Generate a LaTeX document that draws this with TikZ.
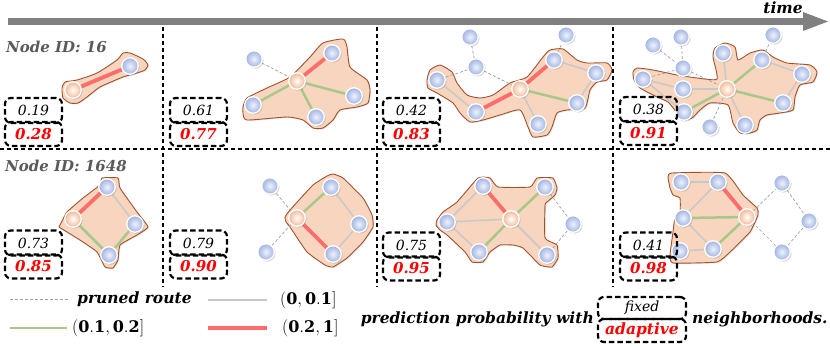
\documentclass[tikz,border=0pt]{standalone}
\usepackage{fontspec}
\setmainfont{DejaVu Serif}
\usetikzlibrary{shadows}
\pgfdeclarelayer{hulllayer}
\pgfdeclarelayer{edgelayer}
\pgfsetlayers{hulllayer,edgelayer,main}
\definecolor{hullfill}{RGB}{248,213,190}
\definecolor{hullline}{RGB}{160,82,45}
\definecolor{redge}{RGB}{255,108,108}
\definecolor{gedge}{RGB}{168,200,138}
\definecolor{grayedge}{RGB}{200,200,200}
\definecolor{prunedc}{RGB}{160,160,160}
\definecolor{nodeblue}{RGB}{160,180,226}
\definecolor{nodelight}{RGB}{238,242,252}
\definecolor{nodeorange}{RGB}{243,185,150}
\definecolor{barc}{RGB}{128,128,128}
\definecolor{idgray}{RGB}{90,90,90}
\tikzset{
  bnode/.style={circle, minimum size=16.5pt, inner sep=0pt, draw=white, line width=1.3pt,
    inner color=nodelight, outer color=nodeblue,
    drop shadow={opacity=0.35, shadow xshift=1.3pt, shadow yshift=-1.3pt}},
  onode/.style={bnode, inner color=white, outer color=nodeorange},
  hull/.style={fill=hullfill, draw=hullline, line width=0.9pt,
    drop shadow={opacity=0.2, shadow xshift=1pt, shadow yshift=-1pt}},
  redE/.style={draw=redge, line width=3.8pt},
  greenE/.style={draw=gedge, line width=2.5pt},
  grayE/.style={draw=grayedge, line width=1.5pt},
  prunedE/.style={draw=prunedc, line width=0.7pt, dash pattern=on 3pt off 2pt},
  sep/.style={draw=black, line width=1.1pt, dash pattern=on 4pt off 3pt},
  pboxstyle/.style={draw=black, line width=2.2pt, dash pattern=on 5.5pt off 3pt, rounded corners=6pt,
    minimum width=57pt, inner sep=0pt},
  ptop/.style={pboxstyle, minimum height=25pt, font=\fontsize{14}{14}\selectfont\itshape},
  pbot/.style={pboxstyle, minimum height=24pt, text=red, font=\fontsize{15}{15}\selectfont\bfseries\itshape},
  bi/.style={font=\fontsize{15.5}{15.5}\selectfont\bfseries\itshape, inner sep=0pt},
  idlab/.style={font=\fontsize{15}{15}\selectfont\bfseries\itshape, text=idgray, inner sep=0pt, anchor=west},
  mathlab/.style={font=\fontsize{16}{16}\selectfont, inner sep=0pt}
}
\begin{document}
\begin{tikzpicture}[x=1pt, y=-1pt]
\useasboundingbox (0,0) rectangle (830,349);
% time arrow
\fill[barc] (8,18) rectangle (803,25);
\fill[barc] (803,12) -- (828,21.5) -- (803,31) -- cycle;
\node[bi] (time) at (783,8) {time};
% separators
\draw[sep] (0,149) -- (830,149);
\draw[sep] (163,27) -- (163,287);
\draw[sep] (377,27) -- (377,287);
\draw[sep] (613,27) -- (613,287);
% labels
\node[idlab] (id1) at (6,47) {Node ID: 16};
\node[idlab] (id2) at (5,166) {Node ID: 1648};

% ---------------- Panel 1
\node[onode] (p1o) at (73,90) {};
\node[bnode] (p1a) at (130,66) {};
\begin{pgfonlayer}{hulllayer}
\draw[hull] plot[smooth cycle, tension=0.35] coordinates {(62,88) (65,82) (77,80) (97,73) (117,60) (123,53) (130,53) (143,59) (148,65) (145,70) (137,73) (123,77) (100,87) (87,97) (78,103) (70,103) (63,98)};
\end{pgfonlayer}
\begin{pgfonlayer}{edgelayer}
\draw[redE] (p1o) -- (p1a);
\end{pgfonlayer}

% ---------------- Panel 2
\node[onode] (p2o) at (297,81) {};
\node[bnode] (p2a) at (332,53) {};
\node[bnode] (p2b) at (354,96) {};
\node[bnode] (p2c) at (316,117) {};
\node[bnode] (p2d) at (253,105) {};
\node[bnode] (p2e) at (254,59) {};
\begin{pgfonlayer}{hulllayer}
\draw[hull] plot[smooth cycle, tension=0.35] coordinates {(243,107) (247,98) (267,88) (290,77) (310,57) (323,43) (343,39) (347,47) (350,67) (367,80) (370,90) (368,103) (357,107) (340,110) (333,120) (323,128) (313,128) (303,120) (287,117) (247,120) (243,113)};
\end{pgfonlayer}
\begin{pgfonlayer}{edgelayer}
\draw[prunedE] (p2e) -- (p2o);
\draw[redE] (p2o) -- (p2a);
\draw[greenE] (p2o) -- (p2b);
\draw[greenE] (p2o) -- (p2c);
\draw[greenE] (p2o) -- (p2d);
\end{pgfonlayer}

% ---------------- Panel 3
\node[onode] (p3o) at (520,89) {};
\node[bnode] (p3a) at (470,37) {};
\node[bnode] (p3b) at (476,67) {};
\node[bnode] (p3c) at (437,80) {};
\node[bnode] (p3d) at (476,112) {};
\node[bnode] (p3e) at (538,124) {};
\node[bnode] (p3f) at (554,60) {};
\node[bnode] (p3g) at (566,35) {};
\node[bnode] (p3h) at (596,73) {};
\node[bnode] (p3i) at (577,103) {};
\begin{pgfonlayer}{hulllayer}
\draw[hull] plot[smooth cycle, tension=0.35] coordinates {(427,80) (430,70) (440,65) (452,72) (457,83) (467,95) (480,98) (493,95) (510,83) (527,77) (543,57) (550,50) (563,49) (577,60) (587,63) (607,63) (612,70) (607,80) (597,82) (590,90) (585,108) (567,110) (557,113) (552,127) (547,135) (533,137) (528,127) (520,110) (500,115) (483,120) (470,122) (460,113) (453,103) (437,93) (428,88)};
\end{pgfonlayer}
\begin{pgfonlayer}{edgelayer}
\draw[prunedE] (p3a) -- (p3b);
\draw[prunedE] (p3b) -- (p3c);
\draw[prunedE] (p3b) -- (p3o);
\draw[prunedE] (p3f) -- (p3g);
\draw[grayE] (p3o) -- (p3e);
\draw[grayE] (p3c) -- (p3d);
\draw[grayE] (p3f) -- (p3h);
\draw[grayE] (p3h) -- (p3i);
\draw[greenE] (p3o) -- (p3i);
\draw[redE] (p3o) -- (p3f);
\draw[redE] (p3o) -- (p3d);
\end{pgfonlayer}

% ---------------- Panel 4
\node[onode] (p4o) at (727,89) {};
\node[bnode] (p4a) at (653,45) {};
\node[bnode] (p4b) at (681,37) {};
\node[bnode] (p4c) at (683,68) {};
\node[bnode] (p4d) at (643,79) {};
\node[bnode] (p4e) at (683,89) {};
\node[bnode] (p4f) at (684,112) {};
\node[bnode] (p4g) at (710,127) {};
\node[bnode] (p4h) at (745,125) {};
\node[bnode] (p4i) at (723,53) {};
\node[bnode] (p4j) at (762,60) {};
\node[bnode] (p4k) at (773,35) {};
\node[bnode] (p4l) at (802,74) {};
\node[bnode] (p4m) at (783,103) {};
\begin{pgfonlayer}{hulllayer}
\draw[hull] plot[smooth cycle, tension=0.35] coordinates {(633,72) (637,68) (653,70) (677,75) (697,78) (717,79) (713,57) (715,48) (725,43) (735,47) (738,60) (750,53) (763,50) (773,57) (787,63) (810,65) (817,72) (813,82) (800,85) (795,97) (793,110) (780,113) (767,115) (760,120) (757,130) (750,133) (740,133) (733,123) (728,105) (710,103) (700,110) (692,118) (682,120) (677,113) (668,102) (657,97) (640,88) (634,80)};
\end{pgfonlayer}
\begin{pgfonlayer}{edgelayer}
\draw[prunedE] (p4a) -- (p4c);
\draw[prunedE] (p4b) -- (p4c);
\draw[prunedE] (p4c) -- (p4o);
\draw[prunedE] (p4c) -- (p4d);
\draw[prunedE] (p4j) -- (p4k);
\draw[prunedE] (p4g) -- (p4o);
\draw[grayE] (p4o) -- (p4h);
\draw[grayE] (p4o) -- (p4i);
\draw[grayE] (p4o) -- (p4e);
\draw[grayE] (p4d) -- (p4e);
\draw[grayE] (p4d) -- (p4f);
\draw[grayE] (p4j) -- (p4l);
\draw[grayE] (p4l) -- (p4m);
\draw[greenE] (p4o) -- (p4j);
\draw[greenE] (p4o) -- (p4m);
\draw[greenE] (p4o) -- (p4f);
\end{pgfonlayer}

% ---------------- Panel 5
\node[onode] (p5o) at (73,219) {};
\node[bnode] (p5a) at (107,187) {};
\node[bnode] (p5b) at (135,224) {};
\node[bnode] (p5c) at (109,255) {};
\begin{pgfonlayer}{hulllayer}
\draw[hull] plot[smooth cycle, tension=0.25] coordinates {(60,225) (67,212) (83,198) (100,185) (102,178) (118,178) (120,188) (137,212) (148,227) (137,235) (120,245) (118,260) (113,268) (105,267) (97,252) (83,242) (67,232) (59,227)};
\end{pgfonlayer}
\begin{pgfonlayer}{edgelayer}
\draw[grayE] (p5a) -- (p5b);
\draw[redE] (p5o) -- (p5a);
\draw[greenE] (p5b) -- (p5c);
\draw[greenE] (p5c) -- (p5o);
\end{pgfonlayer}

% ---------------- Panel 6
\node[onode] (p6o) at (297,218) {};
\node[bnode] (p6a) at (331,187) {};
\node[bnode] (p6b) at (359,224) {};
\node[bnode] (p6c) at (333,254) {};
\node[bnode] (p6d) at (270,186) {};
\node[bnode] (p6e) at (266,252) {};
\begin{pgfonlayer}{hulllayer}
\draw[hull] plot[smooth cycle, tension=0.25] coordinates {(285,217) (290,210) (313,185) (327,176) (333,174) (343,178) (363,198) (372,215) (373,227) (363,242) (347,258) (333,267) (325,265) (307,252) (290,227) (286,222)};
\end{pgfonlayer}
\begin{pgfonlayer}{edgelayer}
\draw[prunedE] (p6o) -- (p6d);
\draw[prunedE] (p6o) -- (p6e);
\draw[grayE] (p6a) -- (p6b);
\draw[grayE] (p6b) -- (p6c);
\draw[greenE] (p6o) -- (p6a);
\draw[redE] (p6c) -- (p6o);
\end{pgfonlayer}

% ---------------- Panel 7
\node[onode] (p7o) at (511,219) {};
\node[bnode] (p7a) at (483,186) {};
\node[bnode] (p7b) at (545,187) {};
\node[bnode] (p7c) at (447,222) {};
\node[bnode] (p7d) at (479,252) {};
\node[bnode] (p7e) at (547,255) {};
\node[bnode] (p7f) at (573,224) {};
\begin{pgfonlayer}{hulllayer}
\draw[hull] plot[smooth cycle, tension=0.25] coordinates {(437,220) (443,212) (457,202) (478,178) (490,178) (498,187) (530,187) (537,178) (553,178) (557,188) (555,195) (547,202) (545,205) (545,238) (557,245) (558,258) (552,267) (540,265) (523,248) (513,245) (500,245) (490,252) (483,262) (472,262) (465,252) (447,235) (440,230) (436,225)};
\end{pgfonlayer}
\begin{pgfonlayer}{edgelayer}
\draw[prunedE] (p7b) -- (p7f);
\draw[prunedE] (p7f) -- (p7e);
\draw[grayE] (p7o) -- (p7c);
\draw[grayE] (p7o) -- (p7e);
\draw[grayE] (p7c) -- (p7a);
\draw[grayE] (p7c) -- (p7d);
\draw[greenE] (p7o) -- (p7b);
\draw[greenE] (p7o) -- (p7d);
\draw[redE] (p7o) -- (p7a);
\end{pgfonlayer}

% ---------------- Panel 8
\node[onode] (p8o) at (747,217) {};
\node[bnode] (p8a) at (681,182) {};
\node[bnode] (p8b) at (718,182) {};
\node[bnode] (p8c) at (683,218) {};
\node[bnode] (p8d) at (680,251) {};
\node[bnode] (p8e) at (713,249) {};
\node[bnode] (p8f) at (782,183) {};
\node[bnode] (p8g) at (809,221) {};
\node[bnode] (p8h) at (782,252) {};
\begin{pgfonlayer}{hulllayer}
\draw[hull] plot[smooth cycle, tension=0.25] coordinates {(668,177) (672,173) (725,173) (743,195) (757,208) (758,215) (750,232) (730,252) (717,262) (673,263) (670,255) (673,232) (675,217) (680,212) (680,198) (673,195) (670,188)};
\end{pgfonlayer}
\begin{pgfonlayer}{edgelayer}
\draw[prunedE] (p8o) -- (p8f);
\draw[prunedE] (p8f) -- (p8g);
\draw[prunedE] (p8g) -- (p8h);
\draw[prunedE] (p8h) -- (p8o);
\draw[grayE] (p8a) -- (p8b);
\draw[grayE] (p8b) -- (p8c);
\draw[grayE] (p8c) -- (p8e);
\draw[grayE] (p8d) -- (p8e);
\draw[greenE] (p8o) -- (p8c);
\draw[greenE] (p8o) -- (p8e);
\draw[redE] (p8o) -- (p8b);
\end{pgfonlayer}

% ---------------- probability boxes
\node[ptop] (b1t) at (33.5,110.5) {0.19};
\node[pbot] (b1b) at (33.5,134) {0.28};
\node[ptop] (b2t) at (198.5,110.5) {0.61};
\node[pbot] (b2b) at (198.5,134) {0.77};
\node[ptop] (b3t) at (411.5,110.5) {0.42};
\node[pbot] (b3b) at (411.5,134) {0.83};
\node[ptop] (b4t) at (648.5,109.5) {0.38};
\node[pbot] (b4b) at (648.5,133) {0.91};
\node[ptop] (b5t) at (33.5,243) {0.73};
\node[pbot] (b5b) at (33.5,266.5) {0.85};
\node[ptop] (b6t) at (198.5,243) {0.79};
\node[pbot] (b6b) at (198.5,266.5) {0.90};
\node[ptop] (b7t) at (411.5,245) {0.75};
\node[pbot] (b7b) at (411.5,268.5) {0.95};
\node[ptop] (b8t) at (648.5,245) {0.41};
\node[pbot] (b8b) at (648.5,268.5) {0.98};

% ---------------- legend
\coordinate (l1s) at (10,299); \coordinate (l1e) at (70,299);
\coordinate (l2s) at (208,300); \coordinate (l2e) at (267,300);
\coordinate (l3s) at (10,328); \coordinate (l3e) at (67,328);
\coordinate (l4s) at (208,328); \coordinate (l4e) at (267,328);
\draw[prunedE] (l1s) -- (l1e);
\draw[grayE] (l2s) -- (l2e);
\draw[greenE] (l3s) -- (l3e);
\draw[redE] (l4s) -- (l4e);
\node[bi, anchor=west] (lt1) at (77,299) {pruned route};
\node[mathlab, anchor=west] (lt2) at (280,300) {$\mathbf{(0,0.1]}$};
\node[mathlab, anchor=west] (lt3) at (72,328) {$\mathbf{(0.1,0.2]}$};
\node[mathlab, anchor=west] (lt4) at (282,328) {$\mathbf{(0.2,1]}$};
\node[bi, anchor=east] (pp) at (594,319) {prediction probability with};
\node[pboxstyle, minimum width=88pt, minimum height=22pt, font=\fontsize{14}{14}\selectfont\itshape] (lfix) at (642,308) {fixed};
\node[pboxstyle, minimum width=88pt, minimum height=23pt, text=red, font=\fontsize{15.5}{15.5}\selectfont\bfseries\itshape] (lada) at (642,330.5) {adaptive};
\node[bi, anchor=west] (nb) at (692,319) {neighborhoods.};
\end{tikzpicture}
\end{document}
